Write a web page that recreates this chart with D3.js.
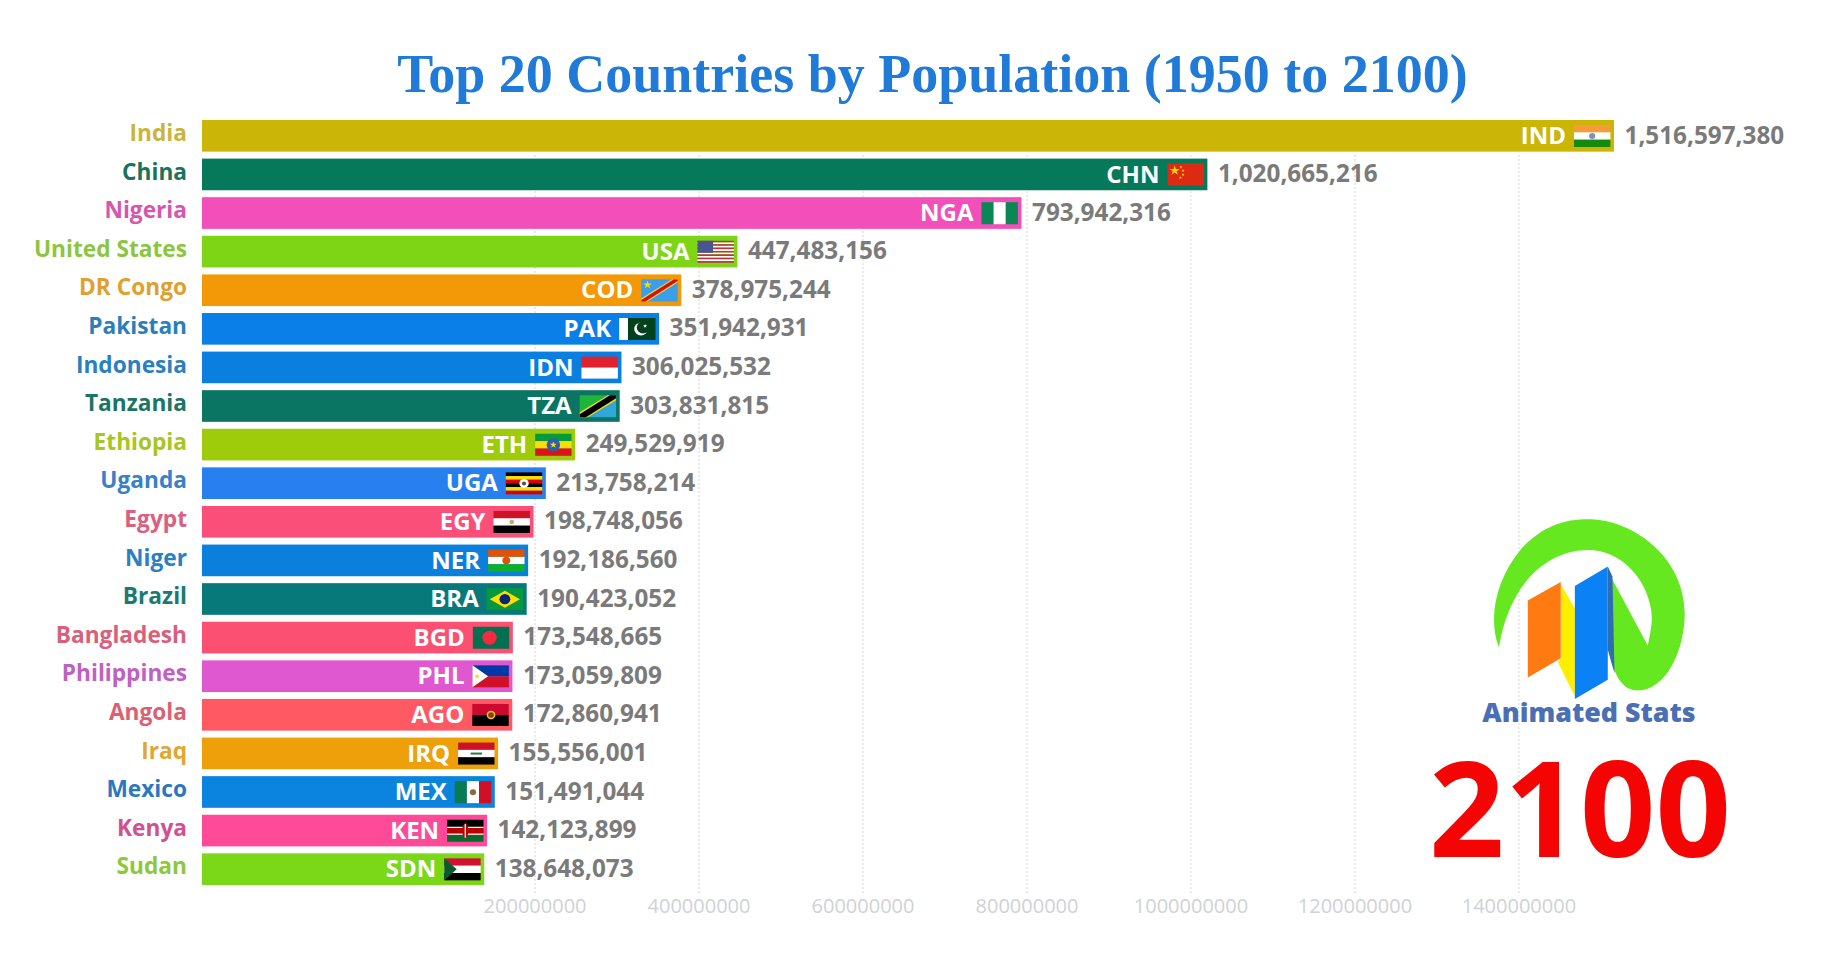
<!DOCTYPE html>
<html>
<head>
<meta charset="utf-8">
<title>Top 20 Countries by Population</title>
<script src="https://cdn.jsdelivr.net/npm/d3@7"></script>
<style>
    html, body { margin: 0; padding: 0; background: #fff; }
    svg { display: block; }
    text { font-family: "Open Sans", sans-serif; }
</style>
</head>
<body>
<main></main>
<script>
const countries = ["India", "China", "Nigeria", "United States", "DR Congo", "Pakistan", "Indonesia", "Tanzania", "Ethiopia", "Uganda",
    "Egypt", "Niger", "Brazil", "Bangladesh", "Philippines", "Angola", "Iraq", "Mexico", "Kenya", "Sudan"];
const codes = ["IND", "CHN", "NGA", "USA", "COD", "PAK", "IDN", "TZA", "ETH", "UGA",
    "EGY", "NER", "BRA", "BGD", "PHL", "AGO", "IRQ", "MEX", "KEN", "SDN"];
const population = [1516597380, 1020665216, 793942316, 447483156, 378975244, 351942931, 306025532, 303831815, 249529919, 213758214,
    198748056, 192186560, 190423052, 173548665, 173059809, 172860941, 155556001, 151491044, 142123899, 138648073];
const barColors = ["#cbb506", "#06795a", "#f24fbb", "#7ed516", "#f39807", "#0a7fe8", "#0a7fe0", "#0a7562", "#9ecb0a", "#2880ee",
    "#fa4f78", "#0a80dc", "#07797a", "#fb5072", "#e058d0", "#ff5a64", "#eda00a", "#0a84de", "#fe4a99", "#7bd818"];
const labelColors = ["#c9b53c", "#1a7358", "#d655b0", "#8cc63f", "#e0a030", "#2a7fba", "#2a7fc0", "#1a7565", "#a8c520", "#3a80c8",
    "#d9607f", "#2a80c0", "#1a7a70", "#d9607a", "#c060c0", "#dc6070", "#e0a830", "#2a78c0", "#d05090", "#8cc83a"];
const tickValues = [200000000, 400000000, 600000000, 800000000, 1000000000, 1200000000, 1400000000];
const axisStart = -205600000; // the bars start left of zero in the original
const year = "2100";

const width = 1827;
const height = 971;

const svg = d3.select("main")
    .append("svg")
    .attr("width", width)
    .attr("height", height);

const xScale = d3.scaleLinear()
    .domain([axisStart, d3.max(population)])
    .range([202, 1614]);

const yScale = d3.scaleBand()
    .domain(countries)
    .range([120, 885])
    .paddingInner(0.18);

// Title
svg.append("text")
    .attr("x", 932.5)
    .attr("y", 92)
    .attr("text-anchor", "middle")
    .style("font-family", "'Liberation Serif', serif")
    .style("font-weight", "700")
    .style("font-size", "54px")
    .attr("fill", "#1f7ad8")
    .text("Top 20 Countries by Population (1950 to 2100)");

// Axis and grid, behind the bars
const xAxis = d3.axisBottom(xScale)
    .tickValues(tickValues)
    .tickFormat(d => d)
    .tickSizeInner(-738)
    .tickSizeOuter(0)
    .tickPadding(6);

const axisG = svg.append("g")
    .attr("transform", `translate(0, 893)`)
    .call(xAxis);
axisG.select(".domain").remove();
axisG.selectAll("line")
    .attr("stroke", "#dcdcdc")
    .attr("stroke-width", 1.2)
    .attr("stroke-dasharray", "2 2");
axisG.selectAll("text")
    .attr("fill", "#cfd2d6")
    .style("font-size", "20px");

// Bars
const rows = svg.selectAll(".row")
    .data(countries)
    .enter()
    .append("g")
    .attr("class", "row");

rows.append("rect")
    .attr("x", xScale(axisStart))
    .attr("y", d => yScale(d))
    .attr("width", (d, i) => xScale(population[i]) - xScale(axisStart))
    .attr("height", yScale.bandwidth())
    .attr("fill", (d, i) => barColors[i]);

rows.append("text")
    .attr("x", 187)
    .attr("y", d => yScale(d) + 21)
    .attr("text-anchor", "end")
    .attr("fill", (d, i) => labelColors[i])
    .style("font-size", "22.7px")
    .style("font-weight", "700")
    .text(d => d);

rows.append("text")
    .attr("x", (d, i) => xScale(population[i]) - 48)
    .attr("y", d => yScale(d) + 24)
    .attr("text-anchor", "end")
    .attr("fill", "#fff")
    .style("font-size", "24px")
    .style("font-weight", "700")
    .text((d, i) => codes[i]);

rows.append("text")
    .attr("x", (d, i) => xScale(population[i]) + 10.5)
    .attr("y", d => yScale(d) + 23.5)
    .attr("fill", "#7a7a7a")
    .style("font-size", "24.3px")
    .style("font-weight", "700")
    .text((d, i) => d3.format(",")(population[i]));

// Flags, each drawn in a 35 x 22 box
const band = (g, x, y, w, h, c) => g.append("rect").attr("x", x).attr("y", y).attr("width", w).attr("height", h).attr("fill", c);
const poly = (g, pts, c) => g.append("polygon").attr("points", pts).attr("fill", c);
const dot = (g, x, y, r, c) => g.append("circle").attr("cx", x).attr("cy", y).attr("r", r).attr("fill", c);
const star = (g, x, y, s, c) => g.append("path").attr("d", d3.symbol(d3.symbolStar, s)()).attr("transform", `translate(${x},${y})`).attr("fill", c);
const stripes = (g, cols) => cols.forEach((c, i) => band(g, 0, i * 22 / cols.length, 35, 22 / cols.length, c));
const vstripes = (g, cols) => cols.forEach((c, i) => band(g, i * 35 / cols.length, 0, 35 / cols.length, 22, c));

const flags = {
    IND: g => { stripes(g, ["#f79a3e", "#fff", "#158a0c"]); dot(g, 17.5, 11, 3, "#7f8fc0"); },
    CHN: g => { band(g, 0, 0, 35, 22, "#dd2a12"); star(g, 7, 7, 30, "#ffd400"); star(g, 13, 3.5, 3, "#ffd400"); star(g, 15, 7, 3, "#ffd400"); star(g, 15, 11, 3, "#ffd400"); star(g, 12.5, 14, 3, "#ffd400"); },
    NGA: g => vstripes(g, ["#0a8754", "#fff", "#0a8754"]),
    USA: g => { stripes(g, ["#b8363f", "#fff", "#b8363f", "#fff", "#b8363f", "#fff", "#b8363f", "#fff", "#b8363f", "#fff", "#b8363f", "#fff", "#b8363f"]); band(g, 0, 0, 15, 12, "#4a5590"); },
    COD: g => { band(g, 0, 0, 35, 22, "#3a9ee8"); poly(g, "0,19 29,0 35,0 35,3 6,22 0,22", "#f7d618"); poly(g, "0,20.5 31,0 35,0 35,1.5 4,22 0,22", "#ce1021"); star(g, 6, 5.5, 22, "#f7d618"); },
    PAK: g => { band(g, 0, 0, 35, 22, "#01411c"); band(g, 0, 0, 8.5, 22, "#fff"); dot(g, 21, 11, 6.5, "#fff"); dot(g, 23, 9.6, 6, "#01411c"); star(g, 25, 8, 5, "#fff"); },
    IDN: g => stripes(g, ["#e0222e", "#fff"]),
    TZA: g => { poly(g, "0,0 35,0 0,22", "#1eb53a"); poly(g, "35,0 35,22 0,22", "#30a8d8"); poly(g, "0,17 27,0 35,0 35,5 8,22 0,22", "#fcd116"); poly(g, "0,19 29,0 35,0 35,3 6,22 0,22", "#000"); },
    ETH: g => { stripes(g, ["#079a3c", "#fcdd09", "#da121a"]); dot(g, 17.5, 11, 6.5, "#2f5fa8"); star(g, 17.5, 11, 14, "#fcdd09"); },
    UGA: g => { stripes(g, ["#000", "#fcdc04", "#d90000", "#000", "#fcdc04", "#d90000"]); dot(g, 17.5, 11, 4.5, "#fff"); dot(g, 17.5, 11, 2, "#555"); },
    EGY: g => { stripes(g, ["#ce1126", "#fff", "#000"]); dot(g, 17.5, 11, 2.2, "#c9a66b"); },
    NER: g => { stripes(g, ["#e05206", "#fff", "#0db02b"]); dot(g, 17.5, 11, 3.8, "#e05206"); },
    BRA: g => { band(g, 0, 0, 35, 22, "#07973e"); poly(g, "17.5,2.5 32,11 17.5,19.5 3,11", "#fedf00"); dot(g, 17.5, 11, 5.2, "#002776"); },
    BGD: g => { band(g, 0, 0, 35, 22, "#04704f"); dot(g, 16, 11, 7, "#f42a41"); },
    PHL: g => { stripes(g, ["#0038a8", "#ce1126"]); poly(g, "0,0 15,11 0,22", "#fff"); star(g, 4.5, 11, 10, "#fcd116"); },
    AGO: g => { stripes(g, ["#cc092f", "#000"]); dot(g, 18, 11, 4.2, "#f9d616"); dot(g, 18, 11, 2.8, "#8a3a1e"); },
    IRQ: g => { stripes(g, ["#ce1126", "#fff", "#000"]); band(g, 12, 10, 11, 2, "#2f7a3c"); },
    MEX: g => { vstripes(g, ["#0a7a50", "#fff", "#ce1126"]); dot(g, 17.5, 11, 3, "#8a6a3a"); },
    KEN: g => { stripes(g, ["#000", "#bb0000", "#066b2c"]); band(g, 0, 7, 35, 1.2, "#fff"); band(g, 0, 13.8, 35, 1.2, "#fff"); g.append("ellipse").attr("cx", 17.5).attr("cy", 11).attr("rx", 3).attr("ry", 7).attr("fill", "#bb0000"); band(g, 16.9, 4, 1.2, 14, "#fff"); },
    SDN: g => { stripes(g, ["#d21034", "#fff", "#000"]); poly(g, "0,0 12,11 0,22", "#0a5a30"); }
};

rows.append("g")
    .attr("transform", (d, i) => `translate(${xScale(population[i]) - 40}, ${yScale(d) + 5}) scale(1.04, 1)`)
    .each(function(d, i) {
        flags[codes[i]](d3.select(this));
    });

// Logo. Shapes are in a stretched local box
const logo = svg.append("g").attr("transform", "translate(1300, 480) scale(0.336, 0.333)");
logo.append("path")
    .attr("d", "M592,502 C560,420 580,300 660,205 C730,130 800,118 855,118 C1000,118 1145,240 1145,400 C1145,510 1090,632 1005,632 C960,632 940,590 925,540 L925,290 L1035,497 C1045,450 1050,420 1045,390 C1030,290 950,210 860,210 C720,210 620,330 592,502 Z")
    .attr("fill", "#65e820");
logo.append("polygon").attr("points", "776,312 818,385 818,650 768,548 776,535").attr("fill", "#ffee00");
logo.append("polygon").attr("points", "678,362 776,306 776,535 678,593").attr("fill", "#ff7a10");
logo.append("polygon").attr("points", "916,260 930,290 936,580 916,510").attr("fill", "#2f6cb0");
logo.append("polygon").attr("points", "818,318 916,260 916,600 818,658").attr("fill", "#0a82f5");

svg.append("text")
    .attr("x", 1589)
    .attr("y", 722)
    .attr("text-anchor", "middle")
    .attr("fill", "#4a6fb5")
    .style("font-size", "26.8px")
    .style("font-weight", "800")
    .text("Animated Stats");

// Year
svg.append("text")
    .attr("x", 1580)
    .attr("y", 857)
    .attr("text-anchor", "middle")
    .attr("fill", "#f50404")
    .style("font-size", "132px")
    .style("font-weight", "700")
    .text(year);
</script>
</body>
</html>
